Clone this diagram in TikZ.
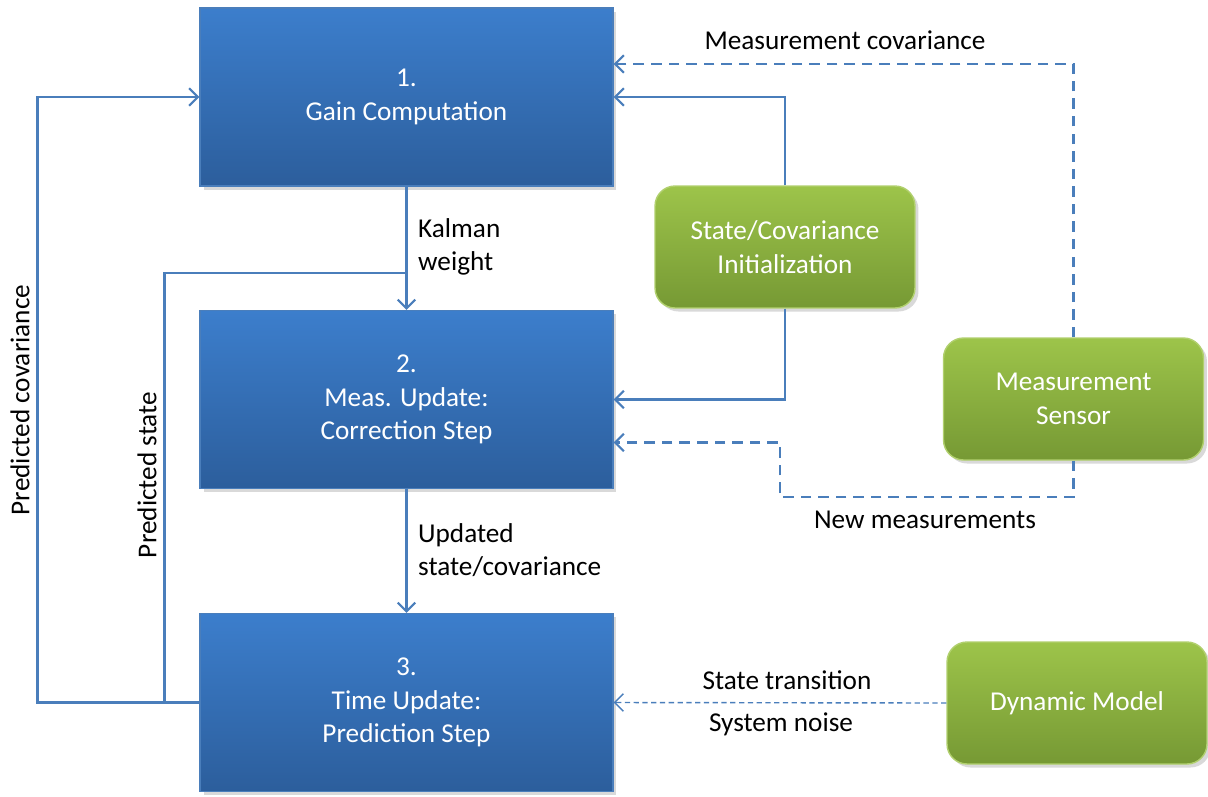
\documentclass[tikz,border=0pt]{standalone}
\usepackage{fontspec}
\setmainfont{Carlito}
\usetikzlibrary{arrows.meta, shadows, calc}

\definecolor{kline}{RGB}{74,126,187}
\definecolor{bluetop}{RGB}{60,126,204}
\definecolor{bluebot}{RGB}{44,94,156}
\definecolor{greentop}{RGB}{157,196,74}
\definecolor{greenbot}{RGB}{118,153,52}

\tikzset{
  stepblock/.style={rectangle, draw=kline, line width=0.8pt,
    top color=bluetop, bottom color=bluebot, text=white,
    minimum width=8.26cm, minimum height=3.56cm, align=center,
    font=\fontsize{15.5}{19}\selectfont,
    drop shadow={opacity=0.3, shadow xshift=2pt, shadow yshift=-2pt}},
  srcblock/.style={rectangle, rounded corners=0.4cm, draw=greentop!80!white, line width=0.8pt,
    top color=greentop, bottom color=greenbot, text=white,
    minimum width=5.2cm, minimum height=2.44cm, align=center,
    font=\fontsize{15.5}{19}\selectfont,
    drop shadow={opacity=0.3, shadow xshift=2pt, shadow yshift=-2pt}},
  lbl/.style={font=\fontsize{15.5}{19}\selectfont, text=black},
  flow/.style={draw=kline, line width=1.5pt, -{Straight Barb[length=5pt, width=10pt, line width=1.2pt]}},
  line/.style={draw=kline, line width=1.5pt},
  dflow/.style={flow, dash pattern=on 6pt off 4pt},
  tflow/.style={draw=kline, line width=0.8pt, dash pattern=on 3pt off 2pt,
    -{Straight Barb[length=5pt, width=10pt, line width=0.8pt]}}
}

\begin{document}
\begin{tikzpicture}[x=0.02cm, y=-0.02cm]
    \useasboundingbox (0,0) rectangle (1208,796);

    % Filter steps
    \node[stepblock] (gain) at (406.5, 97) {1.\\Gain Computation};
    \node[stepblock] (meas) at (406.5, 399.5) {2.\\Meas. Update:\\Correction Step};
    \node[stepblock] (time) at (406.5, 702.5) {3.\\Time Update:\\Prediction Step};

    % Inputs
    \node[srcblock] (init) at (785, 247) {State/Covariance\\Initialization};
    \node[srcblock] (sensor) at (1073.5, 399) {Measurement\\Sensor};
    \node[srcblock] (dyn) at (1077, 703) {Dynamic Model};

    % Main loop
    \draw[flow] (gain.south) -- (meas.north);
    \node[lbl, anchor=west, align=left] (kw) at (412, 247) {Kalman\\weight};
    \draw[flow] (meas.south) -- (time.north);
    \node[lbl, anchor=west, align=left] (usc) at (412, 550) {Updated\\state/covariance};

    % Feedback from prediction
    \coordinate (join) at (406.5, 273);
    \draw[flow] (time.west) -- ++(-162, 0) |- (gain.west);
    \draw[line] (time.west) -- ++(-35, 0) |- (join);
    \node[lbl, rotate=90] (pc) at (20, 400) {Predicted covariance};
    \node[lbl, rotate=90] (ps) at (147, 475) {Predicted state};

    % Initialization
    \draw[flow] (init.north) |- (gain.east);
    \draw[flow] (init.south) |- (meas.east);

    % Sensor
    \coordinate (mc) at ($(gain.east)+(0,-33)$);
    \draw[dflow] (sensor.north) |- (mc);
    \node[lbl] (mclbl) at (845, 40) {Measurement covariance};
    \coordinate (nm) at (780, 497);
    \coordinate (nmin) at ($(meas.east)+(0,43)$);
    \draw[dflow] (sensor.south) |- (nm) -- (nm |- nmin) -- (nmin);
    \node[lbl] (nmlbl) at (925, 520) {New measurements};

    % Dynamic model
    \draw[tflow] (dyn.west) -- (time.east);
    \node[lbl] (st) at (787, 680) {State transition};
    \node[lbl] (sn) at (781, 724) {System noise};
\end{tikzpicture}
\end{document}
